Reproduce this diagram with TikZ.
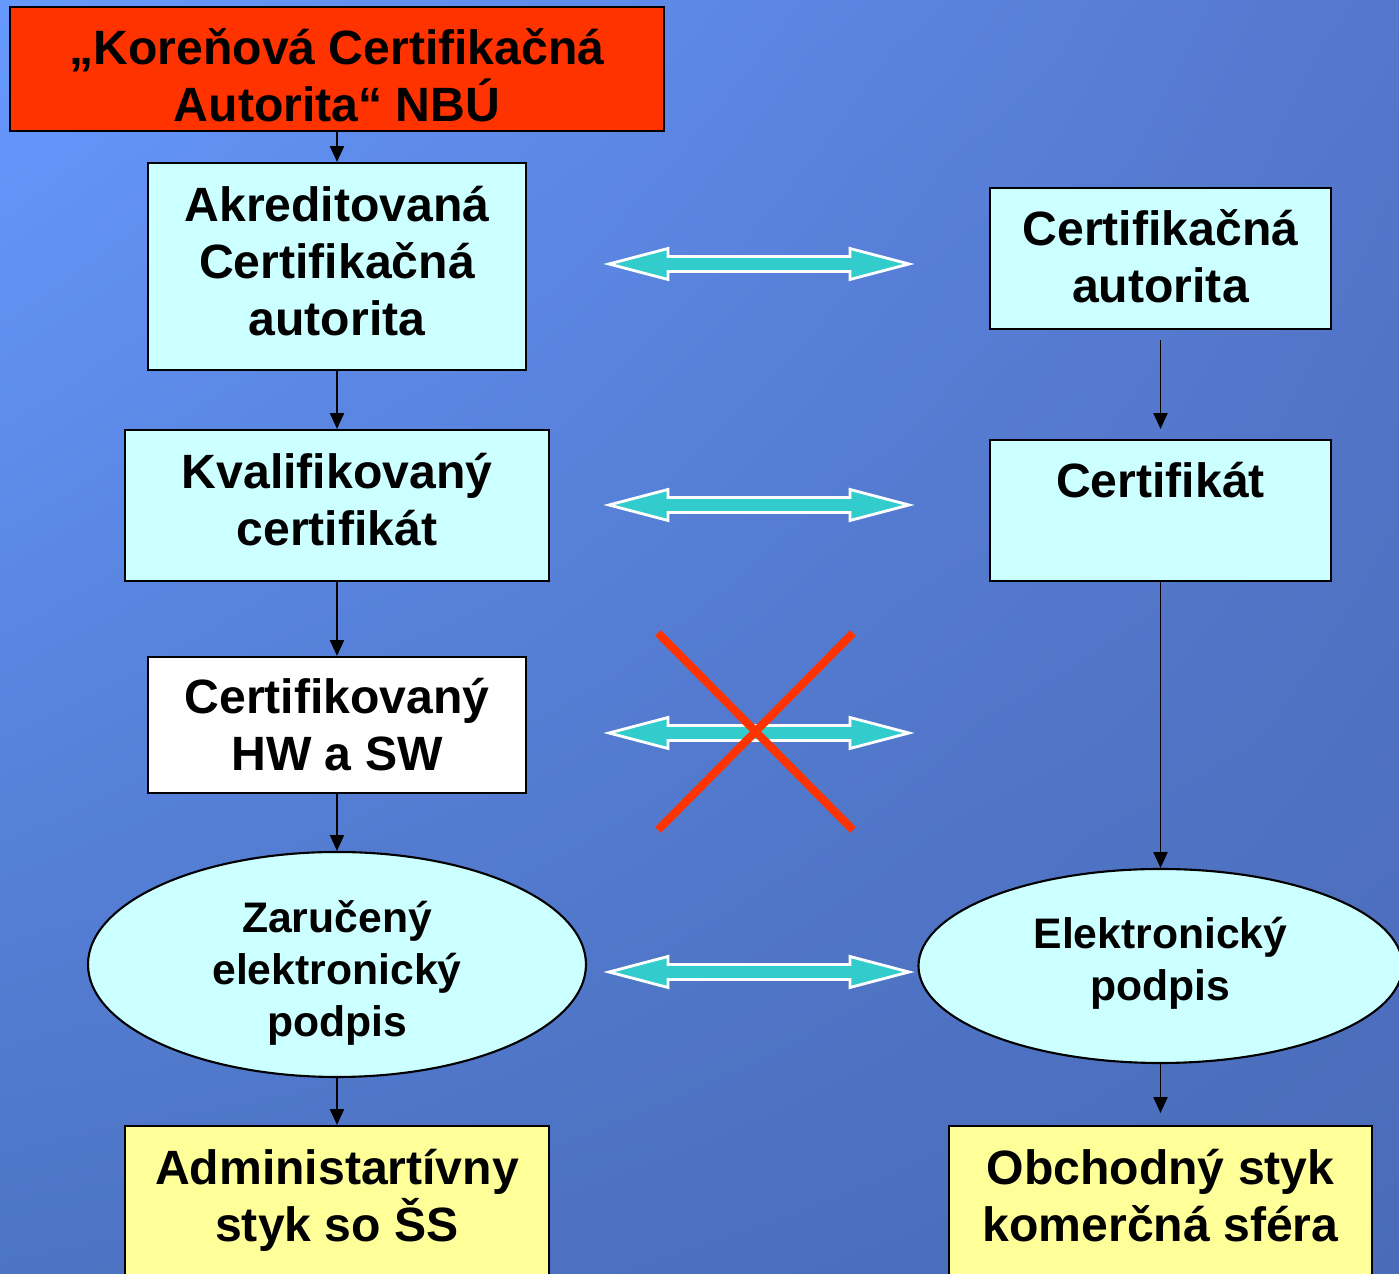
\documentclass[tikz,border=0pt]{standalone}
\usepackage{fontspec}
\setmainfont{Liberation Sans}
\usetikzlibrary{shapes.geometric,arrows.meta,shadings}

\definecolor{bgA}{HTML}{6699FF}
\definecolor{bgB}{HTML}{5577CC}
\definecolor{bgC}{HTML}{4D74C4}
\definecolor{bgD}{HTML}{4A6CB8}
\definecolor{rootred}{HTML}{FF3300}
\definecolor{boxcyan}{HTML}{CCFFFF}
\definecolor{boxyellow}{HTML}{FFFF99}
\definecolor{arrcyan}{HTML}{33CCCC}

% struts to move a text block up or down in its box
\newcommand{\hstrut}[1]{\rule{0pt}{#1}}
\newcommand{\dstrut}[1]{\rule[-#1]{0pt}{0pt}}

\tikzset{
  base/.style={draw=black, line width=0.6pt, inner sep=0pt, align=center,
    font=\fontsize{13.7}{16.2}\selectfont\bfseries},
  rootbox/.style={base, fill=rootred, minimum width=6.54cm, minimum height=1.24cm},
  cbox/.style={base, fill=boxcyan},
  wbox/.style={base, fill=white},
  ybox/.style={base, fill=boxyellow, minimum height=1.94cm},
  oval/.style={base, ellipse, fill=boxcyan, inner ysep=-2mm,
    font=\fontsize{12.15}{14.8}\selectfont\bfseries},
  flow/.style={-{Triangle[length=4.5pt,width=4pt]}, line width=0.5pt},
  dbl/.style={fill=arrcyan, draw=white, line width=0.8pt, line join=miter},
  cross/.style={draw=rootred, line width=2.3pt}
}

\begin{document}
\begin{tikzpicture}
  \useasboundingbox (0,0) rectangle (13.99,-12.74);
  \clip (0,0) rectangle (13.99,-12.74);
  \shade[upper left=bgA, upper right=bgB, lower left=bgC, lower right=bgD]
    (0,0) rectangle (13.99,-12.74);

  % left column
  \node[rootbox] (root) at (3.37,-0.69) {\hstrut{13.6pt}„Koreňová Certifikačná\\Autorita“ NBÚ};
  \node[cbox, minimum width=3.78cm, minimum height=2.07cm] (akca) at (3.37,-2.665)
    {Akreditovaná\\Certifikačná\\autorita\dstrut{3.4pt}};
  \node[cbox, minimum width=4.24cm, minimum height=1.51cm] (kval) at (3.37,-5.055)
    {Kvalifikovaný\\certifikát\dstrut{3.6pt}};
  \node[wbox, minimum width=3.78cm, minimum height=1.36cm] (hwsw) at (3.37,-7.25)
    {Certifikovaný\\HW a SW};
  \node[oval, minimum width=4.98cm, minimum height=2.25cm] (zep) at (3.37,-9.645)
    {\hstrut{14.1pt}Zaručený\\elektronický\\podpis};
  \node[ybox, minimum width=4.24cm] (admin) at (3.37,-12.23)
    {Administartívny\\styk so ŠS\dstrut{0.55cm}};

  % right column
  \node[cbox, minimum width=3.41cm, minimum height=1.41cm] (ca) at (11.605,-2.585)
    {Certifikačná\\autorita\dstrut{1.2pt}};
  \node[cbox, minimum width=3.41cm, minimum height=1.41cm] (cert) at (11.605,-5.105)
    {Certifikát\\\mbox{}\dstrut{1.2pt}};
  \node[oval, minimum width=4.84cm, minimum height=1.94cm] (ep) at (11.605,-9.66)
    {Elektronický\\podpis\dstrut{4.25pt}};
  \node[ybox, minimum width=4.23cm] (obch) at (11.605,-12.23)
    {Obchodný styk\\komerčná sféra\dstrut{0.55cm}};

  % connectors
  \draw[flow] (root) -- (akca);
  \draw[flow] (akca) -- (kval);
  \draw[flow] (kval) -- (hwsw);
  \draw[flow] (hwsw) -- (zep);
  \draw[flow] (zep) -- (admin);
  \draw[flow, shorten <=0.1cm, shorten >=0.1cm] (ca) -- (cert);
  \draw[flow] (cert) -- (ep);
  \draw[flow, shorten >=0.12cm] (ep) -- (obch);

  % double arrows between the columns
  \foreach \cy/\nm in {-2.64/pa, -5.05/pb, -7.33/pc, -9.72/pd} {
    \coordinate (\nm) at (7.59,\cy);
    \draw[dbl] ([xshift=-1.50cm]\nm) -- ++(0.59,0.155) -- ++(0,-0.08) -- ++(1.82,0)
      -- ++(0,0.08) -- ++(0.59,-0.155) -- ++(-0.59,-0.155) -- ++(0,0.08)
      -- ++(-1.82,0) -- ++(0,-0.08) -- cycle;
  }

  % crossed out
  \draw[cross] (6.58,-6.33) -- (8.53,-8.30);
  \draw[cross] (8.53,-6.33) -- (6.58,-8.30);
\end{tikzpicture}
\end{document}
